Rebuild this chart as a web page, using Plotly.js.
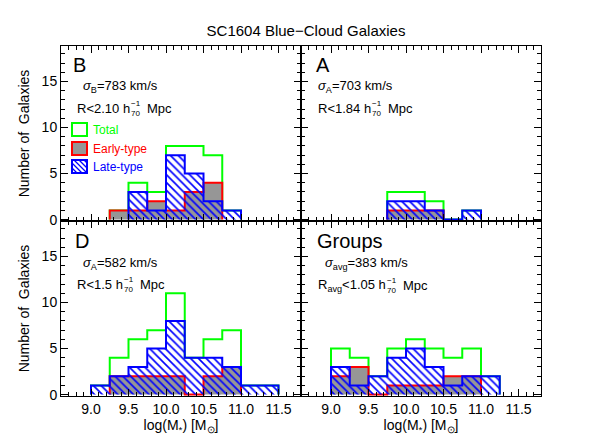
<!DOCTYPE html>
<html><head><meta charset="utf-8">
<script src="https://cdn.plot.ly/plotly-3.0.1.min.js"></script>
<style>body{margin:0;background:#fff}</style>
</head><body><div id="chart" style="width:604px;height:440px"></div>
<script>
// bins: left edges, width 0.25 in log(M*)
const binLefts = [9.0, 9.25, 9.5, 9.75, 10.0, 10.25, 10.5, 10.75, 11.0, 11.25];
const binWidth = 0.25;
// Panel B
const totalB = [0, 1, 4, 3, 8, 8, 7, 1, 0, 0];
const earlyB = [0, 1, 1, 2, 1, 3, 4, 0, 0, 0];
const lateB  = [0, 0, 3, 1, 7, 5, 2, 1, 0, 0];
// Panel A
const totalA = [0, 0, 0, 3, 3, 2, 0, 1, 0, 0];
const earlyA = [0, 0, 0, 1, 1, 1, 0, 0, 0, 0];
const lateA  = [0, 0, 0, 2, 2, 1, 0, 1, 0, 0];
// Panel D
const totalD = [1, 4, 6, 7, 11, 4, 6, 7, 1, 1];
const earlyD = [0, 2, 2, 2, 2, 0, 2, 3, 0, 0];
const lateD  = [1, 2, 3, 5, 8, 4, 4, 3, 1, 1];
// Groups
const totalG = [5, 4, 2, 5, 6, 5, 4, 5, 2, 0];
const earlyG = [2, 3, 0, 1, 1, 1, 2, 2, 0, 0];
const lateG  = [3, 1, 2, 4, 5, 3, 1, 2, 2, 0];

const xTickVals = [9.0, 9.5, 10.0, 10.5, 11.0, 11.5];
const yTickVals = [0, 5, 10, 15];
const legendNames = ['Total', 'Early-type', 'Late-type'];

const FONT = 'Liberation Sans, Arial, Helvetica, sans-serif';
const GREEN = '#00ff00', RED = '#ff0000', BLUE = '#0000ff', GRAY = '#969696';

function steps(counts) {
  let i0 = counts.findIndex(c => c > 0);
  let i1 = counts.length - 1 - counts.slice().reverse().findIndex(c => c > 0);
  const x = [binLefts[i0]], y = [0];
  for (let i = i0; i <= i1; i++) { x.push(binLefts[i]); y.push(counts[i]); }
  x.push(binLefts[i1] + binWidth); y.push(0);
  return {x, y};
}

const traces = [];
function panel(total, early, late, xa, ya) {
  const t = steps(total), e = steps(early), l = steps(late);
  traces.push({type:'scatter', mode:'lines', x:t.x, y:t.y, xaxis:xa, yaxis:ya,
    line:{shape:'hv', color:GREEN, width:2}, showlegend:false, hoverinfo:'skip'});
  traces.push({type:'scatter', mode:'lines', x:e.x, y:e.y, xaxis:xa, yaxis:ya,
    fill:'tozeroy', fillcolor:GRAY,
    line:{shape:'hv', color:RED, width:2}, showlegend:false, hoverinfo:'skip'});
  traces.push({type:'scatter', mode:'lines', x:l.x, y:l.y, xaxis:xa, yaxis:ya,
    fill:'tozeroy', fillcolor:'rgba(0,0,0,0)',
    fillpattern:{shape:'\\', fgcolor:BLUE, size:5.5, solidity:0.3},
    line:{shape:'hv', color:BLUE, width:2}, showlegend:false, hoverinfo:'skip'});
}
panel(totalB, earlyB, lateB, 'x', 'y');
panel(totalA, earlyA, lateA, 'x2', 'y2');
panel(totalD, earlyD, lateD, 'x3', 'y3');
panel(totalG, earlyG, lateG, 'x4', 'y4');

function xax(domain, showLabels, anchor, title) {
  const a = {domain, anchor, range:[8.6, 11.8], tickvals:xTickVals, ticktext:xTickVals.map(v=>v.toFixed(1)),
    showticklabels:showLabels, ticks:'inside', ticklen:7, tickwidth:1, tickcolor:'#000',
    showline:true, linecolor:'#000', linewidth:1, mirror:'ticks', showgrid:false, zeroline:false,
    minor:{dtick:0.1, tick0:9.0, ticks:'inside', ticklen:4, tickwidth:1, tickcolor:'#000', showgrid:false},
    tickfont:{size:14, color:'#000', family:FONT}};
  if (title) a.title = {text:title, font:{size:14, color:'#000', family:FONT}, standoff:4};
  return a;
}
function yax(domain, showLabels, anchor, title) {
  const a = {domain, anchor, range:[-0.15, 18.85], tickvals:yTickVals,
    showticklabels:showLabels, ticks:'inside', ticklen:7, tickwidth:1, tickcolor:'#000',
    showline:true, linecolor:'#000', linewidth:1, mirror:'ticks', showgrid:false, zeroline:false,
    minor:{dtick:1, tick0:0, ticks:'inside', ticklen:4, tickwidth:1, tickcolor:'#000', showgrid:false},
    tickfont:{size:14, color:'#000', family:FONT}};
  if (title) a.title = {text:title, font:{size:14, color:'#000', family:FONT}, standoff:8};
  return a;
}

// text placement helpers (pixel -> paper)
const L = 61, T = 46, W = 480, H = 350;
const px = v => (v - L) / W;
const py = v => (T + H - v) / H;
const cv = document.createElement('canvas').getContext('2d');
function tw(s, size) { cv.font = size + 'px "Liberation Sans"'; return cv.measureText(s).width; }

const anns = [];
function txt(x, y, text, size, color) {
  anns.push({xref:'paper', yref:'paper', x:px(x), y:py(y), text, showarrow:false,
    xanchor:'left', yanchor:'middle', align:'left', borderpad:0, borderwidth:0,
    font:{size, color:color || '#000', family:FONT}});
}
function rline(x, y, preHtml, preW, val) {
  txt(x, y, preHtml + val.replace('<', '&lt;') + ' h', 13);
  const w = preW + tw(val + ' h', 13);
  txt(x + w + 1, y + 0.5, '−1<br>70', 8);
  txt(x + w + 1 + tw('70', 8) + 7, y, 'Mpc', 13);
}
// Panel B
txt(73, 65, 'B', 20);
txt(83, 87, '<i>σ</i><sub>B</sub>=783 km/s', 13);
rline(77, 108, 'R', tw('R', 13), '<2.10');
// Panel A
txt(316, 65, 'A', 20);
txt(318, 87, '<i>σ</i><sub>A</sub>=703 km/s', 13);
rline(318, 108, 'R', tw('R', 13), '<1.84');
// Panel D
txt(75, 241, 'D', 20);
txt(83, 263, '<i>σ</i><sub>A</sub>=582 km/s', 13);
rline(77, 284, 'R', tw('R', 13), '<1.5');
// Groups
txt(317, 241, 'Groups', 20);
txt(325, 263, '<i>σ</i><sub>avg</sub>=383 km/s', 13);
rline(318, 285, 'R<sub>avg</sub>', tw('R', 13) + tw('avg', 9.1), '<1.05');

// legend (panel B): boxes + labels
const shapes = [];
const boxX0 = 72, boxX1 = 87;
const rows = [{y0:123, y1:136, line:GREEN, fill:'#ffffff'},
              {y0:142, y1:155, line:RED, fill:GRAY},
              {y0:160, y1:173, line:BLUE, fill:'#ffffff', hatch:true}];
const legColors = [GREEN, RED, BLUE];
rows.forEach((r, i) => {
  shapes.push({type:'rect', xref:'paper', yref:'paper', x0:px(boxX0), x1:px(boxX1), y0:py(r.y1), y1:py(r.y0),
    fillcolor:r.fill, line:{width:0}, layer:'above'});
  if (r.hatch) {
    const h = r.y1 - r.y0, w = boxX1 - boxX0;
    for (let k = -h; k < w; k += 5) {
      // line from (k, 0) to (k+h, h) clipped to [0,w]
      let a0 = Math.max(0, -k), a1 = Math.min(h, w - k);
      if (a1 <= a0) continue;
      shapes.push({type:'line', xref:'paper', yref:'paper',
        x0:px(boxX0 + k + a0), y0:py(r.y0 + a0), x1:px(boxX0 + k + a1), y1:py(r.y0 + a1),
        line:{color:BLUE, width:1.3}, layer:'above'});
    }
  }
  shapes.push({type:'rect', xref:'paper', yref:'paper', x0:px(boxX0), x1:px(boxX1), y0:py(r.y1), y1:py(r.y0),
    fillcolor:'rgba(0,0,0,0)', line:{color:r.line, width:2}, layer:'above'});
  txt(93, (r.y0 + r.y1) / 2, legendNames[i], 12, legColors[i]);
});

const layout = {
  width:604, height:440, paper_bgcolor:'#fff', plot_bgcolor:'#fff',
  margin:{l:L, r:604 - L - W, t:T, b:440 - T - H, pad:0},
  font:{family:FONT, color:'#000'},
  title:{text:'SC1604 Blue−Cloud Galaxies', font:{size:15, color:'#000', family:FONT},
    x:306/604, xref:'container', xanchor:'center', y:1 - 31/440, yref:'container', yanchor:'middle'},
  showlegend:false,
  xaxis: xax([0, 0.5], false, 'y'),
  yaxis: yax([0.5, 1], true, 'x', 'Number of\u00a0 Galaxies'),
  xaxis2: xax([0.5, 1], false, 'y2'),
  yaxis2: yax([0.5, 1], false, 'x2'),
  xaxis3: xax([0, 0.5], true, 'y3', 'log(M<sub>*</sub>) [M<sub>⊙</sub>]'),
  yaxis3: yax([0, 0.5], true, 'x3', 'Number of\u00a0 Galaxies'),
  xaxis4: xax([0.5, 1], true, 'y4', 'log(M<sub>*</sub>) [M<sub>⊙</sub>]'),
  yaxis4: yax([0, 0.5], false, 'x4'),
  annotations: anns,
  shapes: shapes
};
Plotly.newPlot('chart', traces, layout, {staticPlot:true, displayModeBar:false});
</script></body></html>
